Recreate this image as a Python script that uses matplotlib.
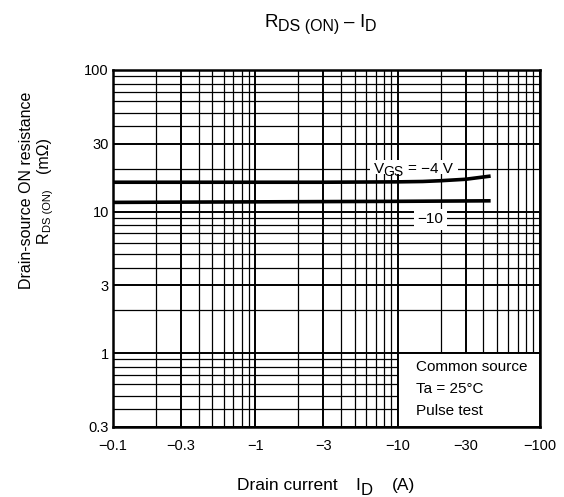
import matplotlib
matplotlib.use("Agg")
from matplotlib import pyplot as plt
from matplotlib.patches import Rectangle
from matplotlib.transforms import IdentityTransform
import matplotlib.ticker as mticker

plt.rcParams['font.family'] = ['Liberation Sans', 'DejaVu Sans']

# curve data (drain current magnitude, A  ->  R_DS(on), mOhm)
vgs4_id = [0.1, 0.3, 1, 3, 10, 15, 20, 30, 45]
vgs4_r = [16.1, 16.1, 16.1, 16.1, 16.2, 16.3, 16.5, 16.9, 17.8]
vgs10_id = [0.1, 1, 10, 45]
vgs10_r = [11.6, 11.7, 11.8, 11.9]

x_ticks = [0.1, 0.3, 1, 3, 10, 30, 100]
x_labels = ['\u22120.1', '\u22120.3', '\u22121', '\u22123', '\u221210', '\u221230', '\u2212100']
y_ticks = [0.3, 1, 3, 10, 30, 100]
y_labels = ['0.3', '1', '3', '10', '30', '100']

W, H = 564, 497
fig = plt.figure(figsize=(W / 100, H / 100), dpi=100)
ax = fig.add_axes([113 / W, 1 - 427 / H, 427 / W, 357 / H])
renderer = fig.canvas.get_renderer()


def rich_text(cx, base, pieces, rotation=0, zorder=5):
    """pieces: (text, fontsize, shift down in px, gap before in px), centred on cx (pixels from top-left)"""
    arts = []
    total = 0
    for s, size, dy, gap in pieces:
        t = fig.text(0, 0, s, fontsize=size, ha='left', va='baseline', rotation=rotation,
                     rotation_mode='anchor', transform=IdentityTransform(), zorder=zorder)
        bb = t.get_window_extent(renderer)
        w = bb.width if rotation == 0 else bb.height
        arts.append((t, w, dy, gap))
        total += w + gap
    pos = -total / 2
    for t, w, dy, gap in arts:
        pos += gap
        if rotation == 0:
            t.set_position((cx + pos, H - base - dy))
        else:
            # rotated 90: reads bottom to top, baseline at x = base
            t.set_position((base + dy, H - cx + pos))
        pos += w


ax.set_xscale('log')
ax.set_yscale('log')
ax.set_xlim(0.1, 100)
ax.set_ylim(0.3, 100)

# grid: decades thicker, 2..9 thinner
ax.xaxis.set_minor_locator(mticker.LogLocator(base=10, subs=range(2, 10)))
ax.yaxis.set_minor_locator(mticker.LogLocator(base=10, subs=range(2, 10)))
ax.grid(which='major', color='black', linewidth=1.4)
ax.grid(which='minor', color='black', linewidth=0.9)
ax.set_axisbelow(True)

ax.set_xticks(x_ticks)
ax.set_xticklabels(x_labels)
ax.set_yticks(y_ticks)
ax.set_yticklabels(y_labels)
ax.xaxis.set_minor_formatter(mticker.NullFormatter())
ax.yaxis.set_minor_formatter(mticker.NullFormatter())
ax.tick_params(which='both', length=0, labelsize=10.5)
ax.tick_params(axis='x', pad=9)
ax.tick_params(axis='y', pad=3)

for s in ax.spines.values():
    s.set_linewidth(1.8)

# curves
ax.plot(vgs4_id, vgs4_r, color='black', linewidth=2.6, solid_capstyle='butt', zorder=3)
ax.plot(vgs10_id, vgs10_r, color='black', linewidth=2.6, solid_capstyle='butt', zorder=3)

# curve labels
ax.add_patch(Rectangle((6.4, 18.3), 26.5 - 6.4, 23.1 - 18.3, facecolor='white',
                       edgecolor='none', zorder=4))
rich_text(413, 173, [('V', 11, 0, 0), ('GS', 10, 3, 0), ('= \u22124 V', 11, 0, 4)])
ax.text(16.9, 8.8, '\u221210', fontsize=11, ha='center', va='center', zorder=4,
        bbox=dict(facecolor='white', edgecolor='none', pad=2.5))

# condition box
ax.add_patch(Rectangle((10, 0.3), 90, 0.7, facecolor='white', edgecolor='black',
                       linewidth=1.4, zorder=4))
ax.text(13.5, 0.79, 'Common source', fontsize=11, ha='left', va='center', zorder=5)
ax.text(13.5, 0.555, 'Ta = 25\u00b0C', fontsize=11, ha='left', va='center', zorder=5)
ax.text(13.5, 0.39, 'Pulse test', fontsize=11, ha='left', va='center', zorder=5)

# title and axis labels
rich_text(320, 27, [('R', 13.5, 0, 0), ('DS (ON)', 11.5, 4, 0), ('\u2013', 13.5, 0, 5),
                    ('I', 13.5, 0, 5), ('D', 11.5, 4, 0)])
rich_text(326, 490, [('Drain current', 12.5, 0, 0), ('I', 12.5, 0, 18), ('D', 12, 5, 0),
                     ('(A)', 12.5, 0, 20)])
rich_text(190, 31, [('Drain-source ON resistance', 11.5, 0, 0)], rotation=90)
rich_text(190, 48, [('R', 11.5, 0, 0), ('DS (ON)', 8, 3, 0), ('(m\u03a9)', 11.5, 0, 16)], rotation=90)

plt.savefig('out.png', dpi=100)
